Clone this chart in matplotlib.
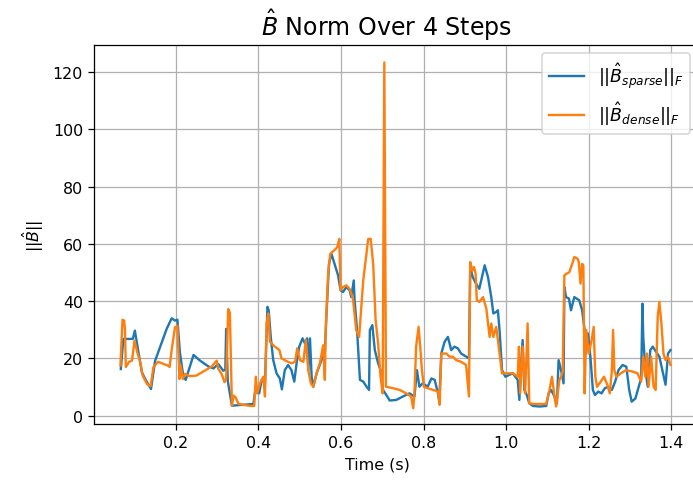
import matplotlib
matplotlib.use("Agg")
import matplotlib.pyplot as plt

# values
t_sparse = [0.067, 0.073, 0.081, 0.096, 0.101, 0.109, 0.118, 0.126, 0.140, 0.150,
            0.178, 0.190, 0.198, 0.204, 0.210, 0.218, 0.224, 0.243, 0.259, 0.279,
            0.291, 0.303, 0.315, 0.320, 0.322, 0.326, 0.336, 0.388, 0.394, 0.402,
            0.408, 0.416, 0.422, 0.425, 0.430, 0.436, 0.444, 0.452, 0.457, 0.464,
            0.472, 0.480, 0.487, 0.493, 0.499, 0.507, 0.513, 0.518, 0.521, 0.525,
            0.529, 0.533, 0.541, 0.553, 0.561, 0.565, 0.571, 0.577, 0.588, 0.593,
            0.599, 0.605, 0.613, 0.621, 0.625, 0.631, 0.633, 0.639, 0.646, 0.654,
            0.662, 0.668, 0.670, 0.676, 0.682, 0.690, 0.696, 0.702, 0.710, 0.718,
            0.734, 0.750, 0.766, 0.778, 0.784, 0.790, 0.798, 0.810, 0.819, 0.827,
            0.835, 0.838, 0.843, 0.851, 0.859, 0.867, 0.875, 0.883, 0.891, 0.903,
            0.910, 0.913, 0.919, 0.927, 0.935, 0.948, 0.956, 0.964, 0.969, 0.976,
            0.980, 0.984, 0.990, 0.998, 1.016, 1.028, 1.032, 1.036, 1.040, 1.044,
            1.050, 1.056, 1.065, 1.081, 1.097, 1.103, 1.109, 1.117, 1.123, 1.127,
            1.133, 1.139, 1.141, 1.145, 1.152, 1.157, 1.165, 1.177, 1.184, 1.190,
            1.193, 1.198, 1.204, 1.210, 1.215, 1.223, 1.231, 1.239, 1.247, 1.256,
            1.264, 1.272, 1.282, 1.291, 1.298, 1.304, 1.313, 1.321, 1.327, 1.330,
            1.332, 1.337, 1.343, 1.349, 1.355, 1.363, 1.371, 1.380, 1.386, 1.392,
            1.398]
b_sparse = [16.3, 26.8, 26.8, 26.8, 29.7, 22.7, 15.1, 12.8, 9.3, 19.2,
            30.3, 34.0, 33.2, 33.5, 22.1, 14.0, 12.5, 21.2, 19.2, 17.2,
            16.5, 18.0, 15.7, 16.0, 30.3, 12.0, 3.5, 4.1, 10.5, 7.8,
            12.5, 11.3, 38.0, 36.8, 27.5, 19.4, 14.8, 13.0, 9.2, 15.9,
            17.7, 15.9, 11.9, 18.8, 24.1, 27.0, 25.2, 27.0, 15.9, 27.0,
            13.6, 10.1, 14.8, 19.4, 22.3, 35.7, 53.0, 56.5, 51.3, 49.0,
            43.8, 43.2, 44.9, 43.8, 41.4, 47.2, 40.3, 29.9, 12.5, 11.9,
            10.1, 9.0, 29.9, 31.6, 22.9, 18.3, 15.9, 9.0, 7.2, 5.3,
            5.5, 6.7, 7.8, 6.7, 15.9, 10.1, 11.3, 10.1, 13.0, 12.5,
            7.8, 4.9, 21.7, 25.8, 27.5, 22.9, 24.1, 23.5, 21.7, 20.6,
            20.0, 51.9, 48.4, 46.1, 44.3, 52.5, 48.4, 41.4, 35.7, 36.2,
            36.8, 29.9, 15.9, 13.6, 14.8, 12.5, 5.5, 17.7, 26.4, 9.0,
            7.2, 4.3, 3.4, 3.2, 3.4, 7.8, 9.0, 6.7, 4.3, 19.4,
            15.9, 11.3, 44.9, 41.4, 40.9, 36.8, 41.4, 40.3, 36.8, 29.9,
            21.7, 28.7, 20.6, 9.0, 7.2, 8.4, 7.8, 9.6, 10.1, 9.0,
            11.9, 15.9, 17.7, 17.1, 9.0, 4.9, 6.0, 10.1, 13.0, 39.1,
            27.5, 15.9, 10.1, 22.9, 24.1, 22.3, 20.6, 14.8, 10.8, 21.7,
            22.9]

t_dense = [0.066, 0.071, 0.075, 0.077, 0.079, 0.087, 0.094, 0.100, 0.107, 0.114,
           0.120, 0.130, 0.139, 0.146, 0.157, 0.181, 0.185, 0.191, 0.198, 0.204,
           0.209, 0.212, 0.217, 0.222, 0.234, 0.250, 0.270, 0.287, 0.299, 0.303,
           0.311, 0.318, 0.322, 0.327, 0.331, 0.336, 0.340, 0.345, 0.352, 0.380,
           0.390, 0.394, 0.397, 0.404, 0.412, 0.416, 0.420, 0.424, 0.428, 0.440,
           0.451, 0.456, 0.464, 0.472, 0.480, 0.489, 0.494, 0.501, 0.509, 0.515,
           0.521, 0.527, 0.533, 0.541, 0.549, 0.557, 0.561, 0.563, 0.569, 0.574,
           0.585, 0.591, 0.596, 0.599, 0.605, 0.613, 0.621, 0.629, 0.637, 0.644,
           0.654, 0.666, 0.672, 0.678, 0.684, 0.690, 0.696, 0.701, 0.705, 0.709,
           0.726, 0.742, 0.758, 0.770, 0.775, 0.778, 0.782, 0.788, 0.792, 0.796,
           0.801, 0.812, 0.823, 0.835, 0.839, 0.843, 0.855, 0.863, 0.871, 0.879,
           0.891, 0.903, 0.910, 0.913, 0.918, 0.922, 0.926, 0.929, 0.935, 0.944,
           0.952, 0.960, 0.964, 0.969, 0.976, 0.984, 0.990, 1.000, 1.016, 1.028,
           1.031, 1.034, 1.040, 1.046, 1.052, 1.056, 1.069, 1.097, 1.105, 1.111,
           1.117, 1.121, 1.129, 1.133, 1.137, 1.141, 1.147, 1.153, 1.160, 1.165,
           1.173, 1.176, 1.180, 1.184, 1.187, 1.190, 1.194, 1.200, 1.207, 1.212,
           1.216, 1.220, 1.229, 1.237, 1.245, 1.251, 1.256, 1.259, 1.262, 1.267,
           1.278, 1.290, 1.306, 1.318, 1.327, 1.332, 1.337, 1.341, 1.345, 1.351,
           1.357, 1.362, 1.367, 1.371, 1.376, 1.381, 1.386, 1.392, 1.398]
b_dense = [17.5, 33.5, 33.2, 30.0, 17.0, 18.8, 19.2, 26.2, 22.0, 18.8,
           14.0, 11.1, 10.3, 17.0, 18.8, 17.5, 17.0, 23.9, 30.8, 31.4,
           12.8, 17.5, 12.8, 14.6, 13.8, 14.0, 15.7, 17.2, 19.2, 16.3,
           14.6, 11.7, 12.8, 37.2, 36.0, 3.5, 7.0, 6.4, 4.1, 3.4,
           3.4, 13.6, 7.8, 11.3, 13.6, 6.7, 32.2, 35.7, 25.8, 24.1,
           22.9, 20.0, 19.4, 18.8, 18.3, 18.8, 23.5, 19.4, 18.8, 26.4,
           15.9, 11.3, 10.1, 14.8, 18.3, 24.6, 12.5, 29.9, 49.6, 56.5,
           57.9, 58.8, 61.7, 43.8, 44.9, 45.5, 44.3, 40.9, 29.9, 27.5,
           47.2, 61.7, 61.7, 53.0, 33.3, 25.2, 13.6, 7.8, 123.3, 10.1,
           9.6, 9.0, 7.8, 6.7, 2.6, 8.0, 24.1, 31.0, 24.1, 15.9,
           10.1, 9.5, 9.0, 8.5, 3.8, 21.7, 21.7, 20.6, 20.6, 19.4,
           18.8, 17.7, 6.7, 53.6, 50.7, 51.9, 49.6, 40.3, 39.7, 41.4,
           37.4, 27.5, 32.2, 27.5, 31.0, 21.7, 14.8, 14.8, 14.8, 13.6,
           24.1, 7.8, 24.1, 7.8, 32.2, 4.3, 4.1, 4.1, 9.0, 13.6,
           6.7, 3.2, 12.5, 13.6, 15.4, 49.0, 49.6, 50.1, 53.0, 55.4,
           54.8, 53.6, 46.1, 53.0, 52.5, 7.8, 29.9, 21.7, 26.4, 31.0,
           13.6, 10.1, 11.9, 13.6, 10.8, 7.8, 15.9, 29.9, 15.9, 13.6,
           14.8, 15.9, 15.4, 14.8, 11.9, 20.6, 13.6, 21.7, 10.1, 20.6,
           10.1, 9.0, 34.5, 39.7, 32.2, 21.7, 19.4, 20.6, 17.7]

DPI = 114
fig = plt.figure(figsize=(693 / DPI, 483 / DPI), dpi=DPI)
# axes runs a bit past the right edge of the picture, as in the reference
ax = fig.add_axes([94 / 693, 58 / 483, 605 / 693, 379.3 / 483])

ax.plot(t_sparse, b_sparse, label=r'$||\hat{B}_{sparse}||_F$')
ax.plot(t_dense, b_dense, label=r'$||\hat{B}_{dense}||_F$')

ax.set_xlim(0.002, 1.467)
ax.set_ylim(-2.9, 129.5)
ax.set_xticks([0.2, 0.4, 0.6, 0.8, 1.0, 1.2, 1.4])
ax.grid(True)

# title and x label sit a little left of the axes centre in the reference
ax.set_title(r'$\hat{B}$ Norm Over 4 Steps', fontsize=15, x=0.483)
ax.set_xlabel('Time (s)', x=0.469)
ax.set_ylabel(r'$||\hat{B}||$')
ax.legend(loc='upper right', fontsize=11)

fig.savefig('out.png', dpi=DPI)
